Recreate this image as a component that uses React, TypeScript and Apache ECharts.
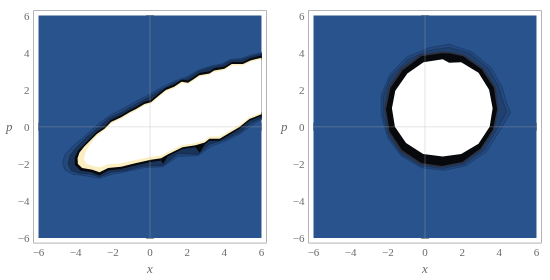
import React, { useEffect, useRef } from "react";
import * as echarts from "echarts";

// ---- axis / range values ----
const MAJOR_TICKS = [-6, -4, -2, 0, 2, 4, 6];
const MINOR_STEPS = [0.4, 0.8, 1.2, 1.6];
const PLOT_RANGE = [-6, 6];
const AXIS_RANGE = [-6.27, 6.27];
const X_NAME = "x";
const Y_NAME = "p";

// ---- left panel contour regions (x, p) ----
const leftHaloOuter = [
  [6, 4.0], [5.4, 3.85], [4.9, 3.68], [4.3, 3.62], [3.9, 3.4], [3.3, 3.28], [2.6, 3.05], [2.0, 2.7],
  [1.3, 2.45], [0.5, 2.05], [-0.2, 1.65], [-0.8, 1.35], [-1.5, 0.95], [-2.2, 0.6], [-2.9, 0.05],
  [-3.5, -0.5], [-4.1, -1.0], [-4.55, -1.45], [-4.7, -1.9], [-4.6, -2.3], [-4.15, -2.55], [-3.4, -2.65],
  [-2.75, -2.78], [-2.0, -2.55], [-1.2, -2.4], [-0.3, -2.2], [0.7, -2.15], [1.5, -1.6], [2.6, -1.55],
  [3.3, -1.05], [4.1, -0.75], [4.9, -0.35], [5.5, 0.1], [6, 0.4],
];
const leftHaloInner = [
  [6, 3.92], [5.4, 3.78], [4.9, 3.6], [4.3, 3.56], [3.9, 3.33], [3.3, 3.2], [2.6, 2.98], [2.0, 2.6],
  [1.3, 2.36], [0.5, 1.93], [-0.2, 1.52], [-0.8, 1.2], [-1.5, 0.8], [-2.2, 0.47], [-2.8, -0.05],
  [-3.4, -0.55], [-3.95, -1.1], [-4.3, -1.55], [-4.4, -2.0], [-4.25, -2.35], [-3.8, -2.5], [-3.2, -2.55],
  [-2.72, -2.7], [-2.1, -2.45], [-1.3, -2.35], [-0.4, -2.12], [0.7, -2.08], [1.5, -1.45], [2.6, -1.48],
  [3.2, -0.95], [4.1, -0.65], [4.9, -0.25], [5.4, 0.2], [6, 0.48],
];
const leftBlack = [
  [6, 3.85], [5.4, 3.7], [5.0, 3.5], [4.4, 3.5], [4.0, 3.25], [3.45, 3.15], [3.2, 3.0], [2.65, 2.9],
  [2.4, 2.72], [2.05, 2.5], [1.7, 2.55], [1.3, 2.28], [0.85, 2.1], [0.5, 1.82], [0.05, 1.45], [-0.3, 1.35],
  [-0.75, 1.08], [-1.1, 0.9], [-1.55, 0.63], [-2.1, 0.38], [-2.45, 0.0], [-2.85, -0.25], [-3.2, -0.6],
  [-3.55, -0.95], [-3.85, -1.25], [-4.05, -1.65], [-4.05, -2.05], [-3.75, -2.35], [-3.15, -2.45],
  [-2.72, -2.62], [-2.25, -2.35], [-1.55, -2.27], [-0.85, -2.1], [0.05, -1.9], [0.6, -1.82], [0.7, -2.0],
  [0.95, -1.6], [1.75, -1.2], [2.45, -1.1], [2.67, -1.4], [2.95, -0.95], [3.2, -0.75], [3.75, -0.75],
  [4.2, -0.48], [4.8, -0.12], [5.35, 0.32], [6, 0.58],
];
const leftYellow = [
  [6, 3.72], [5.4, 3.58], [5.0, 3.38], [4.4, 3.38], [4.0, 3.13], [3.45, 3.03], [3.2, 2.88], [2.65, 2.78],
  [2.4, 2.6], [2.05, 2.38], [1.7, 2.43], [1.3, 2.16], [0.85, 1.98], [0.5, 1.7], [0.05, 1.33], [-0.3, 1.23],
  [-0.75, 0.96], [-1.1, 0.78], [-1.55, 0.51], [-2.1, 0.26], [-2.45, -0.1], [-2.85, -0.37], [-3.2, -0.72],
  [-3.55, -1.07], [-3.8, -1.4], [-3.9, -1.7], [-3.88, -2.0], [-3.65, -2.22], [-3.1, -2.32], [-2.72, -2.45],
  [-2.25, -2.22], [-1.55, -2.15], [-0.85, -1.98], [0.05, -1.78], [0.6, -1.7], [0.95, -1.5], [1.75, -1.1],
  [2.45, -1.0], [2.95, -0.85], [3.2, -0.65], [3.75, -0.65], [4.2, -0.38], [4.8, -0.02], [5.35, 0.42], [6, 0.68],
];
const leftWhite = [
  [6, 3.64], [5.4, 3.5], [5.0, 3.3], [4.4, 3.3], [4.0, 3.05], [3.45, 2.95], [3.2, 2.8], [2.65, 2.7],
  [2.4, 2.52], [2.05, 2.3], [1.7, 2.35], [1.3, 2.08], [0.85, 1.9], [0.5, 1.62], [0.05, 1.25], [-0.3, 1.15],
  [-0.75, 0.88], [-1.1, 0.7], [-1.55, 0.43], [-2.1, 0.16], [-2.45, -0.2], [-2.85, -0.5], [-3.15, -0.85],
  [-3.35, -1.15], [-3.5, -1.45], [-3.55, -1.75], [-3.45, -1.98], [-3.1, -2.1], [-2.7, -2.18], [-2.25, -2.02],
  [-1.55, -1.97], [-0.85, -1.8], [0.05, -1.62], [0.6, -1.55], [0.95, -1.36], [1.75, -0.98], [2.45, -0.88],
  [2.95, -0.72], [3.2, -0.52], [3.75, -0.52], [4.2, -0.25], [4.8, 0.1], [5.35, 0.52], [6, 0.78],
];

// ---- right panel contour regions (x, p) ----
const rightContourOuter = [
  [4.15, 0.0], [4.6, 0.75], [4.35, 1.4], [4.15, 2.15], [3.55, 3.2], [2.5, 4.05], [1.3, 4.45], [0.2, 4.25],
  [-1.0, 3.75], [-1.9, 2.8], [-2.35, 1.7], [-2.35, 0.6], [-2.0, -0.6], [-1.3, -1.55], [-0.2, -2.2],
  [1.0, -2.35], [2.2, -2.1], [3.3, -1.35],
];
const rightContourInner = [
  [4.0, 0.1], [4.4, 0.8], [4.15, 1.5], [3.95, 2.2], [3.4, 3.15], [2.4, 3.95], [1.3, 4.28], [0.15, 4.1],
  [-0.95, 3.6], [-1.85, 2.7], [-2.25, 1.65], [-2.25, 0.6], [-1.95, -0.5], [-1.3, -1.45], [-0.25, -2.1],
  [0.95, -2.25], [2.15, -2.0], [3.2, -1.25],
];
const rightBand = [
  [3.95, 0.95], [3.8, 2.15], [3.15, 3.15], [2.1, 3.88], [1.3, 4.05], [0.9, 4.07], [-0.25, 3.9], [-1.3, 3.15],
  [-1.98, 2.15], [-2.2, 0.95], [-2.0, -0.3], [-1.35, -1.35], [-0.25, -2.05], [0.9, -2.2], [2.05, -1.98],
  [3.05, -1.25], [3.72, -0.2],
];
const rightBlack = [
  [3.88, 0.95], [3.7, 2.1], [3.05, 3.1], [2.05, 3.8], [1.35, 3.95], [0.9, 3.97], [-0.2, 3.8], [-1.2, 3.05],
  [-1.85, 2.1], [-2.1, 0.95], [-1.9, -0.25], [-1.25, -1.25], [-0.2, -1.95], [0.9, -2.12], [2.0, -1.9],
  [3.0, -1.15], [3.65, -0.15],
];
const rightWhite = [
  [3.64, 1.0], [3.45, 2.0], [2.88, 2.92], [1.95, 3.48], [1.3, 3.45], [0.95, 3.64], [-0.08, 3.48], [-0.95, 2.88],
  [-1.6, 1.95], [-1.78, 1.0], [-1.62, 0.0], [-1.02, -0.87], [-0.1, -1.47], [0.95, -1.6], [1.95, -1.47],
  [2.88, -0.92], [3.48, 0.0],
];

const BLUE = "#28538c";
const TEXT = "#6b6b6b";
const FRAME = "#b4b4b4";
const FONT = "'Liberation Serif', 'Times New Roman', serif";

const MINOR_TICKS = MAJOR_TICKS.slice(0, -1).flatMap((t) => MINOR_STEPS.map((d) => +(t + d).toFixed(2)));

function fmt(v: number) {
  return v < 0 ? "\u2212" + Math.abs(v) : String(v);
}

function makeAxes(g: number, dim: "x" | "y") {
  const base: any = {
    gridIndex: g,
    type: "value",
    min: AXIS_RANGE[0],
    max: AXIS_RANGE[1],
    axisLine: { show: false },
    splitLine: { show: false },
  };
  const pos = dim === "x" ? ["bottom", "top"] : ["left", "right"];
  const major = (p: string, labels: boolean) => ({
    ...base,
    position: p,
    axisTick: { show: true, inside: true, length: 4, customValues: MAJOR_TICKS, lineStyle: { color: "#9a9a9a", width: 1 } },
    axisLabel: labels
      ? {
          show: true,
          customValues: MAJOR_TICKS,
          formatter: (v: number) => fmt(v),
          color: TEXT,
          fontFamily: FONT,
          fontSize: 11,
          margin: dim === "x" ? 3 : 4,
        }
      : { show: false },
    ...(labels
      ? {
          name: dim === "x" ? X_NAME : Y_NAME,
          nameLocation: "middle",
          nameRotate: 0,
          nameGap: dim === "x" ? 18 : 21,
          nameTextStyle: { fontStyle: "italic", fontFamily: FONT, fontSize: 13, color: TEXT },
        }
      : {}),
  });
  const minor = (p: string) => ({
    ...base,
    position: p,
    axisTick: { show: true, inside: true, length: 2.5, customValues: MINOR_TICKS, lineStyle: { color: "#a5a5a5", width: 1 } },
    axisLabel: { show: false },
  });
  return [major(pos[0], true), minor(pos[0]), major(pos[1], false), minor(pos[1])];
}

function polySeries(g: number, pts: number[][], style: any) {
  return {
    type: "custom",
    xAxisIndex: g * 4,
    yAxisIndex: g * 4,
    silent: true,
    data: pts,
    renderItem: (params: any, api: any) => {
      if (params.dataIndex !== 0) return null;
      return {
        type: "polygon",
        shape: { points: pts.map((p) => api.coord(p)) },
        style,
      };
    },
  };
}

function bgSeries(g: number) {
  return {
    type: "custom",
    xAxisIndex: g * 4,
    yAxisIndex: g * 4,
    silent: true,
    data: [[PLOT_RANGE[0], PLOT_RANGE[0]]],
    renderItem: (params: any, api: any) => {
      const a = api.coord([PLOT_RANGE[0], PLOT_RANGE[1]]);
      const b = api.coord([PLOT_RANGE[1], PLOT_RANGE[0]]);
      return { type: "rect", shape: { x: a[0], y: a[1], width: b[0] - a[0], height: b[1] - a[1] }, style: { fill: BLUE } };
    },
  };
}

function axesLinesSeries(g: number) {
  return {
    type: "custom",
    xAxisIndex: g * 4,
    yAxisIndex: g * 4,
    silent: true,
    data: [[0, 0]],
    renderItem: (params: any, api: any) => {
      const h1 = api.coord([PLOT_RANGE[0], 0]);
      const h2 = api.coord([PLOT_RANGE[1], 0]);
      const v1 = api.coord([0, PLOT_RANGE[0]]);
      const v2 = api.coord([0, PLOT_RANGE[1]]);
      const st = { stroke: "rgba(175,175,175,0.42)", lineWidth: 0.8 };
      return {
        type: "group",
        children: [
          { type: "line", shape: { x1: h1[0], y1: h1[1], x2: h2[0], y2: h2[1] }, style: st },
          { type: "line", shape: { x1: v1[0], y1: v1[1], x2: v2[0], y2: v2[1] }, style: st },
        ],
      };
    },
  };
}

export default function App() {
  const ref = useRef<HTMLDivElement>(null);
  useEffect(() => {
    if (!ref.current) return;
    const chart = echarts.init(ref.current, null, { renderer: "svg" });
    const grids = [
      { left: 33.5, top: 10.5, width: 233, height: 234, show: true, borderColor: FRAME, borderWidth: 1, backgroundColor: "#fff" },
      { left: 308.5, top: 10.5, width: 233, height: 234, show: true, borderColor: FRAME, borderWidth: 1, backgroundColor: "#fff" },
    ];
    const xAxis = [...makeAxes(0, "x"), ...makeAxes(1, "x")];
    const yAxis = [...makeAxes(0, "y"), ...makeAxes(1, "y")];
    const series = [
      bgSeries(0),
      polySeries(0, leftHaloOuter, { fill: "#23487c", stroke: "#183764", lineWidth: 0.7 }),
      polySeries(0, leftHaloInner, { fill: "#1a3459", stroke: "#122848", lineWidth: 0.7 }),
      polySeries(0, leftBlack, { fill: "#08090c" }),
      polySeries(0, leftYellow, { fill: "#fbefc2" }),
      polySeries(0, leftWhite, { fill: "#ffffff" }),
      axesLinesSeries(0),
      bgSeries(1),
      polySeries(1, rightContourOuter, { fill: "#25497e", stroke: "#183866", lineWidth: 0.7 }),
      polySeries(1, rightContourInner, { fill: "#20406e", stroke: "#16325c", lineWidth: 0.7 }),
      polySeries(1, rightBand, { fill: "#2a3244" }),
      polySeries(1, rightBlack, { fill: "#08090c" }),
      polySeries(1, rightWhite, { fill: "#ffffff" }),
      axesLinesSeries(1),
    ];
    chart.setOption({ animation: false, grid: grids, xAxis, yAxis, series });
    return () => chart.dispose();
  }, []);
  return <div ref={ref} style={{ position: "fixed", left: 0, top: 0, width: 550, height: 280 }} />;
}
